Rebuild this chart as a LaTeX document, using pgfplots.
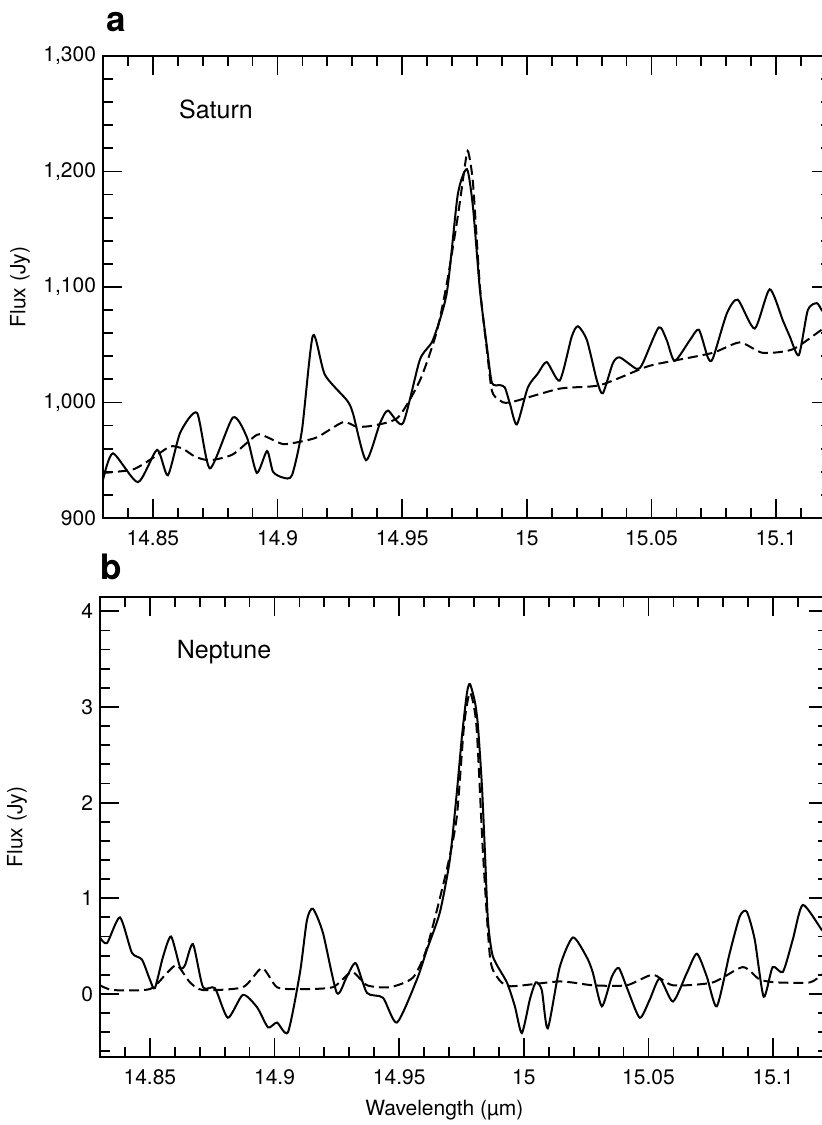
\documentclass[border=0pt]{standalone}
\usepackage{pgfplots}
\pgfplotsset{compat=1.18}
\usepackage{fontspec}
\setmainfont{TeX Gyre Heros}

\pgfplotstableread{
x y
14.830 933
14.834 956
14.844 931
14.8517 959
14.856 937
14.861 974
14.8677 991
14.8729 943
14.8821 987
14.8877 970
14.8917 939
14.8958 958
14.8982 940
14.9022 935
14.9058 937
14.9098 976
14.9142 1058
14.919 1024
14.9278 1002
14.9302 991
14.9355 950
14.9411 982
14.9443 993
14.9503 982
14.9571 1037
14.9623 1054
14.9679 1095
14.9723 1180
14.976 1202
14.9784 1169
14.9812 1097
14.984 1048
14.986 1017
14.9892 1015
14.9912 1013
14.9932 999
14.996 981
15.0004 1013
15.0044 1025
15.008 1035
15.0132 1019
15.018 1057
15.0205 1066
15.0241 1054
15.0281 1019
15.0305 1008
15.0345 1034
15.0373 1039
15.0441 1029
15.0465 1034
15.0529 1065
15.0561 1054
15.0593 1036
15.0654 1054
15.069 1063
15.0726 1039
15.0746 1038
15.0802 1077
15.0846 1089
15.0914 1064
15.0974 1098
15.1027 1071
15.1055 1057
15.1091 1041
15.1127 1080
15.1163 1086
15.1183 1080
15.122 1070
}\satobs

\pgfplotstableread{
x y
14.830 939
14.842 942
14.850 952
14.857 962
14.862 960
14.867 953
14.8729 950
14.882 955
14.8917 972
14.8958 970
14.9022 964
14.909 966
14.916 970
14.9263 983
14.9318 979
14.9383 980
14.9483 987
14.9571 1019
14.9637 1060
14.9679 1103
14.9723 1161
14.9755 1210
14.9765 1217
14.9784 1190
14.9812 1100
14.984 1045
14.986 1010
14.989 1002
14.9932 1000
15.0132 1012
15.0293 1015
15.0481 1031
15.0585 1036
15.0746 1043
15.0854 1052
15.0946 1043
15.1066 1046
15.1183 1063
15.122 1066
}\satmod

\pgfplotstableread{
x y
14.830 0.59
14.8328 0.53
14.838 0.80
14.8428 0.43
14.8468 0.36
14.850 0.15
14.852 0.06
14.8553 0.39
14.8585 0.60
14.8621 0.28
14.8641 0.30
14.8673 0.52
14.8713 0.07
14.8761 0.06
14.8813 -0.25
14.8873 -0.01
14.893 -0.14
14.8974 -0.35
14.901 -0.30
14.9054 -0.40
14.9102 0.22
14.913 0.77
14.9154 0.89
14.9194 0.64
14.925 0.01
14.929 0.18
14.9326 0.32
14.9371 0.01
14.9435 -0.04
14.9491 -0.30
14.9571 0.15
14.9611 0.46
14.9663 0.85
14.9703 1.40
14.9731 2.10
14.9752 2.70
14.9772 3.15
14.9784 3.24
14.9804 3.05
14.9816 2.80
14.9832 2.17
14.9844 1.48
14.9856 0.77
14.9876 0.39
14.9932 0.12
14.9964 -0.13
14.9992 -0.41
15.0024 -0.06
15.0048 0.12
15.0072 0.04
15.0096 -0.36
15.0144 0.28
15.0197 0.59
15.0253 0.38
15.0277 0.22
15.0313 -0.13
15.0353 0.18
15.0381 0.27
15.0417 0.04
15.0465 -0.25
15.0505 -0.06
15.0545 0.16
15.0598 -0.08
15.0654 0.22
15.0694 0.42
15.0734 0.18
15.0774 -0.13
15.0826 0.43
15.0866 0.81
15.0894 0.86
15.0926 0.57
15.0962 -0.03
15.0998 0.28
15.1039 0.23
15.1079 0.57
15.1119 0.93
15.1195 0.67
15.122 0.62
}\nepobs

\pgfplotstableread{
x y
14.830 0.09
14.8352 0.04
14.850 0.05
14.8569 0.22
14.8609 0.30
14.8661 0.12
14.8713 0.04
14.8873 0.07
14.895 0.27
14.901 0.07
14.9102 0.05
14.9234 0.07
14.931 0.23
14.9371 0.09
14.9463 0.07
14.9555 0.17
14.9611 0.48
14.9691 1.30
14.9731 1.85
14.9760 2.80
14.9784 3.15
14.9810 2.80
14.9836 1.48
14.9864 0.39
14.9892 0.18
14.9944 0.08
15.0144 0.13
15.0277 0.09
15.0413 0.09
15.0517 0.20
15.0598 0.09
15.0758 0.12
15.0878 0.28
15.0946 0.15
15.1015 0.12
15.1147 0.12
15.1195 0.20
15.122 0.22
}\nepmod

\pgfplotsset{
  panel/.style={
    scale only axis,
    width=364pt, height=231pt,
    anchor=south west,
    xmin=14.83, xmax=15.122,
    xtick={14.85,14.9,14.95,15,15.05,15.1},
    minor xtick={14.84,14.86,14.87,14.88,14.89,14.91,14.92,14.93,14.94,14.96,14.97,14.98,14.99,15.01,15.02,15.03,15.04,15.06,15.07,15.08,15.09,15.11,15.12},
    tick align=inside,
    major tick length=9.5pt,
    minor tick length=5pt,
    axis line style={line width=1.2pt},
    every tick/.style={black, line width=0.9pt},
    tick label style={font=\fontsize{10.5}{12}\selectfont},
    xticklabel style={yshift=-3pt},
    label style={font=\fontsize{10.5}{12}\selectfont},
    /pgf/number format/assume math mode=true,
    /pgf/number format/1000 sep={,},
    ylabel={Flux (Jy)},
    ylabel style={at={(axis description cs:-0.114,0.5)}, anchor=center},
  },
  obs/.style={black, line width=1pt, smooth, tension=0.4},
  mod/.style={black, line width=1pt, smooth, tension=0.4, dash pattern=on 5pt off 2.5pt},
}

\begin{document}
\begin{tikzpicture}
\useasboundingbox (0,0) rectangle (411pt,562.5pt);

\begin{axis}[panel, at={(51.5pt,303.5pt)},
    ymin=900, ymax=1300,
    ytick={900,1000,1100,1200,1300},
    minor ytick={920,940,960,980,1020,1040,1060,1080,1120,1140,1160,1180,1220,1240,1260,1280},
]
\addplot[obs] table[x=x, y=y] {\satobs};
\addplot[mod] table[x=x, y=y] {\satmod};
\node[anchor=base west, font=\fontsize{12.5}{14}\selectfont] at (axis cs:14.8577,1246) {Saturn};
\end{axis}

\begin{axis}[panel, at={(50pt,34pt)}, height=230pt,
    ymin=-0.66, ymax=4.15,
    ytick={0,1,2,3,4},
    minor ytick={-0.6,-0.4,-0.2,0.2,0.4,0.6,0.8,1.2,1.4,1.6,1.8,2.2,2.4,2.6,2.8,3.2,3.4,3.6,3.8},
    xlabel={Wavelength (µm)},
    xlabel style={at={(axis description cs:0.473,-0.115)}, anchor=center},
]
\addplot[obs] table[x=x, y=y] {\nepobs};
\addplot[mod] table[x=x, y=y] {\nepmod};
\node[anchor=base west, font=\fontsize{12.5}{14}\selectfont] at (axis cs:14.858,3.51) {Neptune};
\end{axis}

\node[anchor=base west, font=\bfseries\fontsize{17.5}{19}\selectfont, inner sep=0pt] at (53pt,546.5pt) {a};
\node[anchor=base west, font=\bfseries\fontsize{17.5}{19}\selectfont, inner sep=0pt] at (50pt,272.5pt) {b};
\end{tikzpicture}
\end{document}
